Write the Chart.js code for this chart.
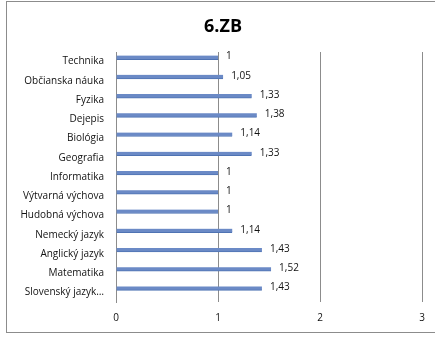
<!DOCTYPE html>
<html><head><meta charset="utf-8">
<script src="https://cdn.jsdelivr.net/npm/chart.js@4/dist/chart.umd.min.js"></script>
<style>html,body{margin:0;padding:0;background:#fff}#w{width:435px;height:339px;position:relative}</style>
</head><body><div id="w"><canvas id="c" width="435" height="339"></canvas></div>
<script>
const title = "6.ZB";
const categories = ["Technika","Občianska náuka","Fyzika","Dejepis","Biológia","Geografia","Informatika","Výtvarná výchova","Hudobná výchova","Nemecký jazyk","Anglický jazyk","Matematika","Slovenský jazyk…"];
const values = [1,1.05,1.33,1.38,1.14,1.33,1,1,1,1.14,1.43,1.52,1.43];
const xTicks = [0,1,2,3];

const FONT = "'Open Sans', 'Liberation Sans', sans-serif";

const framePlugin = {
  id: 'frame',
  beforeDraw(chart) {
    const ctx = chart.ctx;
    ctx.save();
    ctx.fillStyle = '#fff';
    ctx.fillRect(0,0,chart.width,chart.height);
    ctx.strokeStyle = '#8c8c8c';
    ctx.lineWidth = 1;
    ctx.strokeRect(6.5, 1.5, 440, 331);
    ctx.fillStyle = '#000';
    ctx.font = "bold 18px 'Open Sans', 'Liberation Sans', sans-serif";
    ctx.textAlign = 'center';
    ctx.textBaseline = 'middle';
    ctx.fillText(title, 223, 27);
    ctx.restore();
  }
};
const labelPlugin = {
  id: 'vlabels',
  afterDatasetsDraw(chart) {
    const ctx = chart.ctx;
    const meta = chart.getDatasetMeta(0);
    ctx.save();
    ctx.fillStyle = '#111';
    ctx.font = "10px " + FONT;
    ctx.textAlign = 'left';
    ctx.textBaseline = 'middle';
    meta.data.forEach((bar, i) => {
      ctx.fillText(String(values[i]).replace('.', ','), bar.x + 8, bar.y - 1);
    });
    ctx.restore();
  }
};

const emptySeries = categories.map(() => null);

new Chart(document.getElementById('c'), {
  type: 'bar',
  data: {
    labels: categories,
    datasets: [{
      data: values,
      backgroundColor: '#6b8ac6',
      borderColor: '#4f73b3',
      borderWidth: {top:0,bottom:1,left:0,right:0},
      barThickness: 4
    },
    { data: emptySeries, barThickness: 4, backgroundColor: 'rgba(0,0,0,0)' },
    { data: emptySeries, barThickness: 4, backgroundColor: 'rgba(0,0,0,0)' }]
  },
  options: {
    indexAxis: 'y',
    responsive: false,
    animation: false,
    layout: { padding: { top: 52, right: 12, left: 0, bottom: 0 } },
    plugins: { legend: { display: false }, tooltip: { enabled: false }, title: { display: false } },
    scales: {
      x: {
        min: 0, max: 3,
        afterBuildTicks(s) { s.ticks = xTicks.map(v => ({ value: v })); },
        afterFit(s) { s.height = 37; },
        grid: { color: '#8c8c8c', drawTicks: false, lineWidth: 1 },
        border: { display: false },
        ticks: { padding: 10, color: '#111', font: { family: FONT, size: 10 } }
      },
      y: {
        afterFit(s) { s.width = 116; },
        grid: { display: false, drawTicks: false },
        border: { display: true, color: '#8c8c8c' },
        ticks: { padding: 12, color: '#111', font: { family: FONT, size: 10 }, autoSkip: false }
      }
    }
  },
  plugins: [framePlugin, labelPlugin]
});
</script></body></html>
